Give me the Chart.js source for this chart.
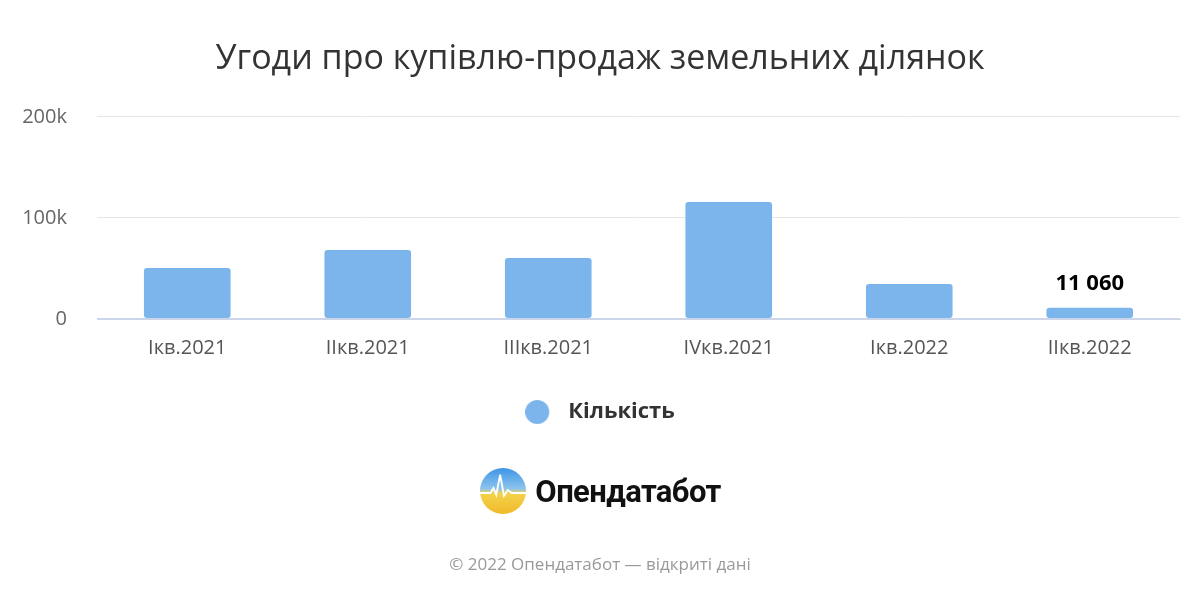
<!DOCTYPE html>
<html>
<head>
<meta charset="utf-8">
<script src="https://cdn.jsdelivr.net/npm/chart.js@4.4.0/dist/chart.umd.min.js"></script>
<style>
  body { margin: 0; background: #fff; font-family: "Open Sans", sans-serif; }
  #wrap { position: relative; width: 1200px; height: 600px; }
  #logo { position: absolute; left: 0; top: 467px; width: 1200px; display: flex; justify-content: center; align-items: center; }
  #logo span { font-family: Roboto, sans-serif; font-weight: 700; font-size: 31px; color: #111; margin-left: 8px; letter-spacing: -0.6px; }
  #foot { position: absolute; left: 0; top: 552px; width: 1200px; text-align: center; font-size: 17px; color: #999; }
</style>
</head>
<body>
<div id="wrap">
  <canvas id="myChart" width="1200" height="600"></canvas>
  <div id="logo">
    <svg width="48" height="48" viewBox="0 0 50 50">
      <defs>
        <linearGradient id="g" x1="0" y1="0" x2="0" y2="1">
          <stop offset="0" stop-color="#3d95e6"/>
          <stop offset="0.45" stop-color="#8cc4ee"/>
          <stop offset="0.55" stop-color="#f3d34a"/>
          <stop offset="1" stop-color="#f0b92a"/>
        </linearGradient>
      </defs>
      <circle cx="25" cy="25" r="24" fill="url(#g)"/>
      <polyline points="1,27 12,27 15,22 18,29 22,8 26,30 30,24 34,27 49,27" fill="none" stroke="#fff" stroke-width="2"/>
    </svg>
    <span>Опендатабот</span>
  </div>
  <div id="foot">© 2022 Опендатабот — відкриті дані</div>
</div>
<script>
var kvartaly = ['Iкв.2021', 'IIкв.2021', 'IIIкв.2021', 'IVкв.2021', 'Iкв.2022', 'IIкв.2022'];
var kilkist = [50500, 68300, 60400, 115800, 34600, 11060];
var yTicks = [0, 100000, 200000];
var yTickLabels = ['0', '100k', '200k'];
var pidpysy = ['', '', '', '', '', '11 060'];

// кружечок для легенди, зсунутий ліворуч щоб був відступ до тексту
var krug = document.createElement('canvas');
krug.width = 32;
krug.height = 24;
var kctx = krug.getContext('2d');
kctx.fillStyle = '#7cb5ec';
kctx.beginPath();
kctx.arc(12, 12, 12, 0, Math.PI * 2);
kctx.fill();

// підпис над останнім стовпцем
var pidpysPlugin = {
    id: 'pidpys',
    afterDatasetsDraw: function (chart) {
        var ctx = chart.ctx;
        var meta = chart.getDatasetMeta(0);
        ctx.save();
        ctx.font = 'bold 22px "Open Sans"';
        ctx.fillStyle = '#000';
        ctx.textAlign = 'center';
        ctx.textBaseline = 'bottom';
        meta.data.forEach(function (bar, i) {
            if (pidpysy[i]) {
                ctx.fillText(pidpysy[i], bar.x, bar.y - 13);
            }
        });
        ctx.restore();
    }
};

const config = {
    type: 'bar',
    data: {
        labels: kvartaly,
        datasets: [{
            label: 'Кількість',
            data: kilkist,
            backgroundColor: '#7cb5ec',
            borderRadius: 3,
            borderSkipped: false,
            categoryPercentage: 1,
            barPercentage: 0.48,
            pointStyle: krug
        }]
    },
    options: {
        responsive: false,
        animation: false,
        layout: { padding: { left: 0, right: 0, bottom: 167 } },
        plugins: {
            title: {
                display: true,
                text: 'Угоди про купівлю-продаж земельних ділянок',
                color: '#333',
                font: { family: 'Open Sans', size: 34, weight: 'normal' },
                padding: { top: 39, bottom: 37 }
            },
            legend: {
                position: 'bottom',
                labels: {
                    usePointStyle: true,
                    pointStyleWidth: 32,
                    color: '#333',
                    padding: 24,
                    font: { family: 'Open Sans', size: 22, weight: 'bold' }
                }
            },
            tooltip: { enabled: false }
        },
        scales: {
            x: {
                grid: { display: false, drawTicks: false },
                border: { color: '#ccd6eb', width: 1 },
                ticks: { color: '#555', padding: 17, font: { family: 'Open Sans', size: 20 } }
            },
            y: {
                min: 0,
                max: 200000,
                afterFit: function (scale) { scale.width = 97; },
                afterBuildTicks: function (scale) {
                    scale.ticks = yTicks.map(function (v) { return { value: v }; });
                },
                grid: {
                    color: function (c) { return c.tick && c.tick.value === 0 ? '#ccd6eb' : '#e6e6e6'; },
                    lineWidth: function (c) { return c.tick && c.tick.value === 0 ? 2 : 1; },
                    drawTicks: false
                },
                border: { display: false },
                ticks: {
                    color: '#666',
                    padding: 30,
                    font: { family: 'Open Sans', size: 20 },
                    callback: function (v) { return yTickLabels[yTicks.indexOf(v)]; }
                }
            },
            // порожня вісь праворуч, тільки для відступу 20px
            yPravo: {
                position: 'right',
                min: 0,
                max: 200000,
                afterFit: function (scale) { scale.width = 20; },
                grid: { display: false, drawTicks: false },
                border: { display: false },
                ticks: { display: false }
            }
        }
    },
    plugins: [pidpysPlugin]
};

const myChart = new Chart(document.getElementById('myChart'), config);
</script>
</body>
</html>
